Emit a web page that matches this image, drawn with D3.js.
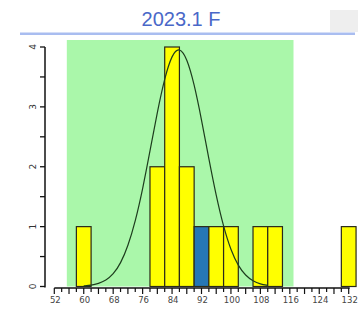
<!DOCTYPE html>
<html><head><meta charset="utf-8">
<script src="https://cdn.jsdelivr.net/npm/d3@7"></script>
<style>body{margin:0;background:#fff}svg{display:block}</style>
</head><body>
<script>
// ---- data ----
const title = "2023.1 F";
const binCenters = [60, 80, 84, 88, 92, 96, 100, 108, 112, 132];
const binCounts  = [1, 2, 4, 2, 1, 1, 1, 1, 1, 1];
const highlightBin = 92;
const binWidth = 4;
const specLimits = [55.4, 117];
const xTicks = [52, 60, 68, 76, 84, 92, 100, 108, 116, 124, 132];
const yTicks = [0, 1, 2, 3, 4];
// fitted normal curve
const curveX = [60,62,64,66,68,70,72,74,76,78,80,82,84,86,88,90,92,94,96,98,100,102,104,106,108,110];
const curveY = [0.01,0.02,0.05,0.10,0.20,0.38,0.67,1.08,1.62,2.26,2.92,3.49,3.88,4.00,3.82,3.39,2.79,2.13,1.51,0.99,0.60,0.34,0.18,0.09,0.04,0.02];

const W = 361, H = 311;
const svg = d3.select("body").append("svg").attr("width", W).attr("height", H);

const x = d3.scaleLinear().domain([52, 132]).range([54.3, 348.7]);
const y = d3.scaleLinear().domain([0, 4]).range([286.5, 47]);

// title
svg.append("text").attr("x", 181).attr("y", 26).attr("text-anchor", "middle")
  .attr("font-family", "Liberation Sans, Arial, sans-serif").attr("font-size", 20)
  .attr("fill", "#4a68c8").text(title);
svg.append("rect").attr("x", 20).attr("y", 32.5).attr("width", 335).attr("height", 2.5).attr("fill", "#a9bdf0");
svg.append("rect").attr("x", 330).attr("y", 10).attr("width", 28).attr("height", 22).attr("fill", "#eeeeee");

// spec area
svg.append("rect").attr("x", x(specLimits[0])).attr("y", 40)
  .attr("width", x(specLimits[1]) - x(specLimits[0])).attr("height", y(0) - 40)
  .attr("fill", "#aaf7aa");

// bars
svg.selectAll("rect.bar").data(binCenters).join("rect").attr("class", "bar")
  .attr("x", (d) => x(d - binWidth / 2))
  .attr("width", (d) => x(d + binWidth / 2) - x(d - binWidth / 2))
  .attr("y", (d, i) => y(binCounts[i]))
  .attr("height", (d, i) => y(0) - y(binCounts[i]))
  .attr("fill", (d) => d === highlightBin ? "#2677b5" : "#ffff00")
  .attr("stroke", "#2a2a1a").attr("stroke-width", 1.2);

// curve
const line = d3.line().x((d, i) => x(curveX[i])).y((d) => y(d)).curve(d3.curveBasis);
svg.append("path").datum(curveY).attr("d", line).attr("fill", "none")
  .attr("stroke", "#1d3d1d").attr("stroke-width", 1.2);

// y axis
const yg = svg.append("g").attr("transform", "translate(45,0)");
yg.append("line").attr("x1", 0).attr("x2", 0).attr("y1", y(4)).attr("y2", y(0) + 1)
  .attr("stroke", "#111").attr("stroke-width", 1.5);
const yMinor = d3.range(0, 4.01, 0.5);
yg.selectAll("line.t").data(yMinor).join("line").attr("class", "t")
  .attr("x1", -5).attr("x2", 0).attr("y1", (d) => y(d)).attr("y2", (d) => y(d))
  .attr("stroke", "#111").attr("stroke-width", 1.3);
yg.selectAll("text").data(yTicks).join("text")
  .attr("transform", (d) => `translate(-8,${y(d)}) rotate(-90)`)
  .attr("text-anchor", "middle").attr("dy", "-0.1em")
  .attr("font-family", "DejaVu Sans, sans-serif").attr("font-size", 9).attr("fill", "#333")
  .text((d) => d);

// x axis
const xg = svg.append("g").attr("transform", "translate(0,288)");
xg.append("line").attr("x1", x(52)).attr("x2", x(132) + 1).attr("y1", 0).attr("y2", 0)
  .attr("stroke", "#111").attr("stroke-width", 1.5);
const xMinor = d3.range(52, 132.01, 2);
xg.selectAll("line.t").data(xMinor).join("line").attr("class", "t")
  .attr("x1", (d) => x(d)).attr("x2", (d) => x(d)).attr("y1", 0)
  .attr("y2", (d) => d % 4 === 0 ? 6 : 4)
  .attr("stroke", "#111").attr("stroke-width", 1.2);
xg.selectAll("text").data(xTicks).join("text")
  .attr("x", (d) => x(d) + 1).attr("y", 15).attr("text-anchor", "middle")
  .attr("font-family", "DejaVu Sans, sans-serif").attr("font-size", 8.5).attr("fill", "#444")
  .text((d) => d);
</script>
</body></html>
